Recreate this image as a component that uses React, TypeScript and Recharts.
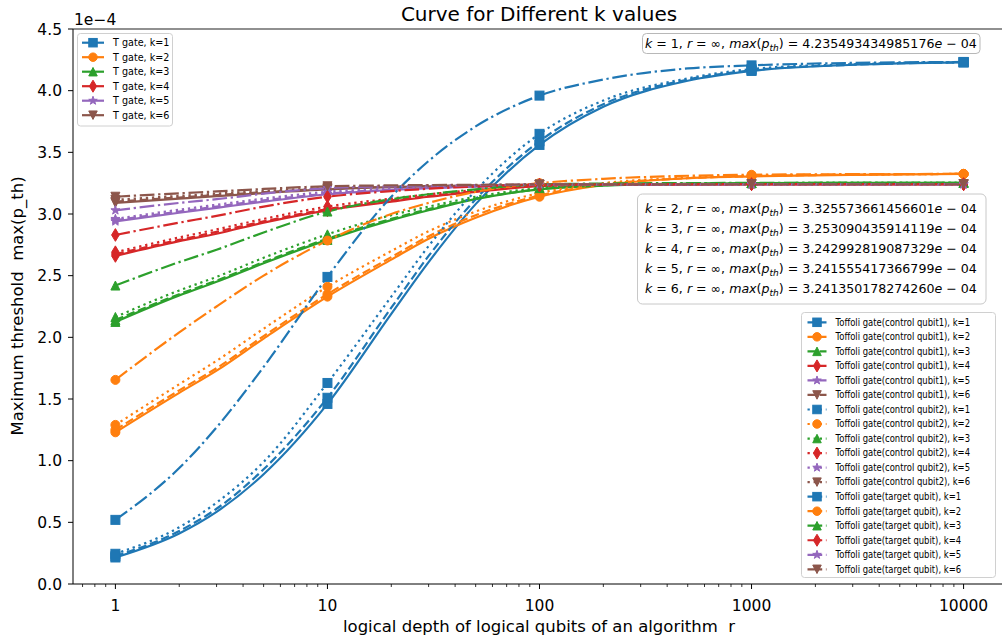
import React from 'react'
import { LineChart, Line, XAxis, YAxis, ReferenceLine } from 'recharts'

const FONT = '"DejaVu Sans", sans-serif'

// logical depth r (x values) and where matplotlib put markers
const depths = [1, 2, 3, 5, 10, 20, 30, 50, 100, 200, 500, 1000, 3000, 10000]
const markedDepths = [1, 10, 100, 1000, 10000]

const majorTicks = [1, 10, 100, 1000, 10000]
const minorTicks = [
  0.7, 0.8, 0.9, 2, 3, 4, 5, 6, 7, 8, 9, 20, 30, 40, 50, 60, 70, 80, 90,
  200, 300, 400, 500, 600, 700, 800, 900, 2000, 3000, 4000, 5000, 6000, 7000, 8000, 9000,
]
const yTicks = [0, 0.5, 1, 1.5, 2, 2.5, 3, 3.5, 4, 4.5]

const kValues = [1, 2, 3, 4, 5, 6]
const gateNames = [
  'T gate',
  'Toffoli gate(control qubit1)',
  'Toffoli gate(control qubit2)',
  'Toffoli gate(target qubit)',
]

// max threshold (x1e-4), one row per k
const tGate = [
  [0.215, 0.41, 0.585, 0.89, 1.46, 2.19, 2.61, 3.08, 3.56, 3.87, 4.08, 4.16, 4.21, 4.23],
  [1.23, 1.55, 1.73, 1.99, 2.33, 2.63, 2.8, 2.97, 3.14, 3.235, 3.29, 3.305, 3.318, 3.325],
  [2.125, 2.34, 2.45, 2.6, 2.79, 2.95, 3.03, 3.12, 3.2, 3.23, 3.245, 3.25, 3.252, 3.253],
  [2.66, 2.78, 2.84, 2.93, 3.03, 3.1, 3.14, 3.18, 3.225, 3.237, 3.241, 3.242, 3.243, 3.243],
  [2.94, 3.01, 3.05, 3.1, 3.16, 3.195, 3.21, 3.222, 3.235, 3.239, 3.241, 3.2415, 3.2416, 3.2416],
  [3.09, 3.125, 3.145, 3.17, 3.2, 3.218, 3.225, 3.231, 3.237, 3.24, 3.241, 3.2413, 3.2414, 3.2414],
]
const controlQubit1 = [
  [0.225, 0.43, 0.61, 0.93, 1.51, 2.24, 2.66, 3.12, 3.59, 3.89, 4.09, 4.165, 4.21, 4.23],
  [1.25, 1.57, 1.75, 2.01, 2.35, 2.65, 2.82, 2.99, 3.15, 3.24, 3.29, 3.307, 3.319, 3.325],
  [2.14, 2.35, 2.46, 2.61, 2.8, 2.96, 3.04, 3.125, 3.2, 3.232, 3.246, 3.25, 3.252, 3.253],
  [2.675, 2.79, 2.855, 2.94, 3.04, 3.11, 3.145, 3.185, 3.228, 3.238, 3.241, 3.242, 3.243, 3.243],
  [2.95, 3.02, 3.06, 3.11, 3.165, 3.198, 3.212, 3.224, 3.236, 3.24, 3.241, 3.2415, 3.2416, 3.2416],
  [3.1, 3.134, 3.153, 3.177, 3.205, 3.221, 3.227, 3.232, 3.238, 3.24, 3.241, 3.2413, 3.2414, 3.2414],
]
const controlQubit2 = [
  [0.245, 0.46, 0.66, 0.99, 1.63, 2.33, 2.74, 3.19, 3.65, 3.92, 4.1, 4.175, 4.215, 4.23],
  [1.29, 1.62, 1.81, 2.07, 2.41, 2.7, 2.86, 3.02, 3.17, 3.25, 3.295, 3.31, 3.32, 3.325],
  [2.165, 2.38, 2.49, 2.645, 2.835, 2.99, 3.06, 3.14, 3.21, 3.235, 3.248, 3.251, 3.252, 3.253],
  [2.69, 2.81, 2.875, 2.96, 3.06, 3.125, 3.16, 3.195, 3.23, 3.239, 3.242, 3.243, 3.243, 3.243],
  [2.96, 3.035, 3.075, 3.125, 3.18, 3.207, 3.218, 3.228, 3.237, 3.24, 3.241, 3.2415, 3.2416, 3.2416],
  [3.115, 3.147, 3.165, 3.187, 3.21, 3.224, 3.229, 3.234, 3.238, 3.24, 3.241, 3.2413, 3.2414, 3.2414],
]
const targetQubit = [
  [0.52, 0.94, 1.27, 1.76, 2.49, 3.14, 3.43, 3.71, 3.96, 4.09, 4.18, 4.205, 4.225, 4.233],
  [1.655, 2.04, 2.25, 2.5, 2.785, 3.0, 3.09, 3.18, 3.25, 3.285, 3.31, 3.318, 3.323, 3.325],
  [2.42, 2.61, 2.71, 2.85, 3.02, 3.12, 3.16, 3.2, 3.24, 3.247, 3.251, 3.252, 3.253, 3.253],
  [2.83, 2.93, 2.985, 3.06, 3.14, 3.185, 3.205, 3.222, 3.238, 3.241, 3.242, 3.243, 3.243, 3.243],
  [3.03, 3.09, 3.12, 3.165, 3.21, 3.225, 3.23, 3.234, 3.239, 3.241, 3.2413, 3.2415, 3.2416, 3.2416],
  [3.14, 3.168, 3.183, 3.203, 3.225, 3.232, 3.235, 3.237, 3.24, 3.241, 3.2412, 3.2413, 3.2414, 3.2414],
]
const gateData = [tGate, controlQubit1, controlQubit2, targetQubit]

const maxLabels = [
  '4.235493434985176',
  '3.325573661456601',
  '3.253090435914119',
  '3.242992819087329',
  '3.241555417366799',
  '3.241350178274260',
]

const colors = ['#1f77b4', '#ff7f0e', '#2ca02c', '#d62728', '#9467bd', '#8c564b']
const markers = ['square', 'circle', 'triUp', 'thinDiamond', 'star', 'triDown']
const dashes = [undefined, '8.5 3.7', '2.3 3.8', '14.7 3.7 2.3 3.7']

const series = gateNames.flatMap((gate, gi) =>
  kValues.map((k, ki) => ({
    key: `g${gi}k${k}`,
    name: `${gate}, k=${k}`,
    values: gateData[gi][ki],
    color: colors[ki],
    marker: markers[ki],
    dash: dashes[gi],
  }))
)

const rows = depths.map((r, i) => {
  const row: Record<string, number> = { r }
  series.forEach((s) => {
    row[s.key] = s.values[i]
  })
  return row
})

function Marker({ type, x, y, color, size = 9 }: any) {
  const h = size / 2
  const common = { fill: color, stroke: color, strokeWidth: 1 }
  if (type === 'square') return <rect x={x - h} y={y - h} width={size} height={size} {...common} />
  if (type === 'circle') return <circle cx={x} cy={y} r={h} {...common} />
  if (type === 'triUp')
    return <polygon points={`${x},${y - h} ${x - h},${y + h} ${x + h},${y + h}`} {...common} />
  if (type === 'triDown')
    return <polygon points={`${x},${y + h} ${x - h},${y - h} ${x + h},${y - h}`} {...common} />
  if (type === 'thinDiamond') {
    const dy = h * 1.414
    const dx = dy * 0.6
    return <polygon points={`${x},${y - dy} ${x + dx},${y} ${x},${y + dy} ${x - dx},${y}`} {...common} />
  }
  const pts: string[] = []
  for (let i = 0; i < 10; i++) {
    const rad = i % 2 === 0 ? h * 1.05 : h * 0.42
    const a = -Math.PI / 2 + (i * Math.PI) / 5
    pts.push(`${x + rad * Math.cos(a)},${y + rad * Math.sin(a)}`)
  }
  return <polygon points={pts.join(' ')} {...common} />
}

const XTick = (props: any) => {
  const { x, y, payload } = props
  const v = payload.value
  const major = majorTicks.includes(v)
  return (
    <g>
      <line x1={x} x2={x} y1={y} y2={y + (major ? 5 : 3)} stroke="#000" strokeWidth={major ? 1 : 0.8} />
      {major && (
        <text x={x} y={y + 27} textAnchor="middle" fontSize={15.5} fontFamily={FONT} fill="#000">
          {v}
        </text>
      )}
    </g>
  )
}

function MaxText({ x, y, k, value }: any) {
  return (
    <text x={x} y={y} fontSize={12.6} fontFamily={FONT} fill="#000" style={{ whiteSpace: 'pre' }}>
      <tspan fontStyle="italic">k</tspan>
      {` = ${k}, `}
      <tspan fontStyle="italic">r</tspan>
      {' = ∞, '}
      <tspan fontStyle="italic">max</tspan>
      {'('}
      <tspan fontStyle="italic">p</tspan>
      <tspan fontStyle="italic" fontSize={9} dy={3}>
        th
      </tspan>
      <tspan dy={-3}>{`) = ${value}`}</tspan>
      <tspan fontStyle="italic">e</tspan>
      {' − 04'}
    </text>
  )
}

function LegendRows({ items, x, y0, step, handle, fontSize, squeeze = 1 }: any) {
  return (
    <g>
      {items.map((s: any, i: number) => {
        const y = y0 + step * i
        return (
          <g key={s.key}>
            <line x1={x} x2={x + handle} y1={y} y2={y} stroke={s.color} strokeWidth={2.2} strokeDasharray={s.dash} />
            <Marker type={s.marker} x={x + handle / 2} y={y} color={s.color} size={8.5} />
            <text
              transform={`translate(${x + handle + 9},${y}) scale(${squeeze},1)`}
              dy="0.35em"
              fontSize={fontSize}
              fontFamily={FONT}
              fill="#000"
            >
              {s.name}
            </text>
          </g>
        )
      })}
    </g>
  )
}

export default function App() {
  const tItems = series.slice(0, 6)
  const toffoliItems = series.slice(6)
  return (
    <div style={{ position: 'absolute', left: 0, top: 0, width: 1002, height: 641, overflow: 'hidden', background: '#fff' }}>
      <LineChart width={1010} height={641} data={rows} margin={{ top: 29, right: 4, left: 13, bottom: 0 }}>
        <XAxis
          dataKey="r"
          type="number"
          scale="log"
          domain={[0.631, 15849]}
          allowDataOverflow
          ticks={[...majorTicks, ...minorTicks]}
          interval={0}
          tick={<XTick />}
          tickLine={false}
          tickSize={0}
          tickMargin={0}
          height={57}
          axisLine={{ stroke: '#000', strokeWidth: 1 }}
        />
        <YAxis
          type="number"
          domain={[0, 4.5]}
          ticks={yTicks}
          interval={0}
          width={60}
          tickFormatter={(v) => v.toFixed(1)}
          tick={{ fill: '#000', fontSize: 15.5, fontFamily: FONT }}
          tickSize={5}
          tickMargin={6}
          axisLine={{ stroke: '#000', strokeWidth: 1 }}
          tickLine={{ stroke: '#000', strokeWidth: 1 }}
        />
        <ReferenceLine y={4.5} stroke="#222" strokeWidth={1.2} />
        {series.map((s) => (
          <Line
            key={s.key}
            dataKey={s.key}
            name={s.name}
            type="monotone"
            stroke={s.color}
            strokeWidth={2.2}
            strokeDasharray={s.dash}
            activeDot={false}
            isAnimationActive={false}
            dot={(p: any) =>
              markedDepths.includes(p.payload.r) ? (
                <Marker key={`${s.key}-${p.index}`} type={s.marker} x={p.cx} y={p.cy} color={s.color} />
              ) : (
                <g key={`${s.key}-${p.index}`} />
              )
            }
          />
        ))}
      </LineChart>

      <svg width={1002} height={641} style={{ position: 'absolute', left: 0, top: 0, pointerEvents: 'none' }}>
        <text x={539} y={21} textAnchor="middle" fontSize={20} fontFamily={FONT} fill="#000">
          Curve for Different k values
        </text>
        <text x={74} y={25} fontSize={15.5} fontFamily={FONT} fill="#000">
          1e−4
        </text>
        <text x={539} y={632} textAnchor="middle" fontSize={16.5} fontFamily={FONT} fill="#000" style={{ whiteSpace: 'pre' }}>
          logical depth of logical qubits of an algorithm  r
        </text>
        <text
          x={0}
          y={0}
          transform="translate(23,306) rotate(-90)"
          textAnchor="middle"
          fontSize={16.5}
          fontFamily={FONT}
          fill="#000"
          style={{ whiteSpace: 'pre' }}
        >
          Maximum threshold  max(p_th)
        </text>

        <rect x={77.5} y={33.5} width={95} height={92.5} rx={3} fill="#fff" fillOpacity={0.8} stroke="#d0d0d0" />
        <LegendRows items={tItems} x={82} y0={42.7} step={14.5} handle={22} fontSize={9.6} />

        <rect x={801.5} y={312.5} width={194} height={265} rx={3} fill="#fff" fillOpacity={0.8} stroke="#d0d0d0" />
        <LegendRows items={toffoliItems} x={807.5} y0={322.3} step={14.53} handle={19} fontSize={9.6} squeeze={0.88} />

        <rect x={642.5} y={33.5} width={337.5} height={20} rx={4} fill="#fff" stroke="#b8b8b8" />
        <MaxText x={645} y={47.5} k={kValues[0]} value={maxLabels[0]} />

        <rect x={637.5} y={194} width={348.5} height={110} rx={5} fill="#fff" fillOpacity={0.8} stroke="#c8c8c8" />
        {kValues.slice(1).map((k, i) => (
          <MaxText key={k} x={645} y={213.3 + 19.85 * i} k={k} value={maxLabels[i + 1]} />
        ))}
      </svg>
    </div>
  )
}
